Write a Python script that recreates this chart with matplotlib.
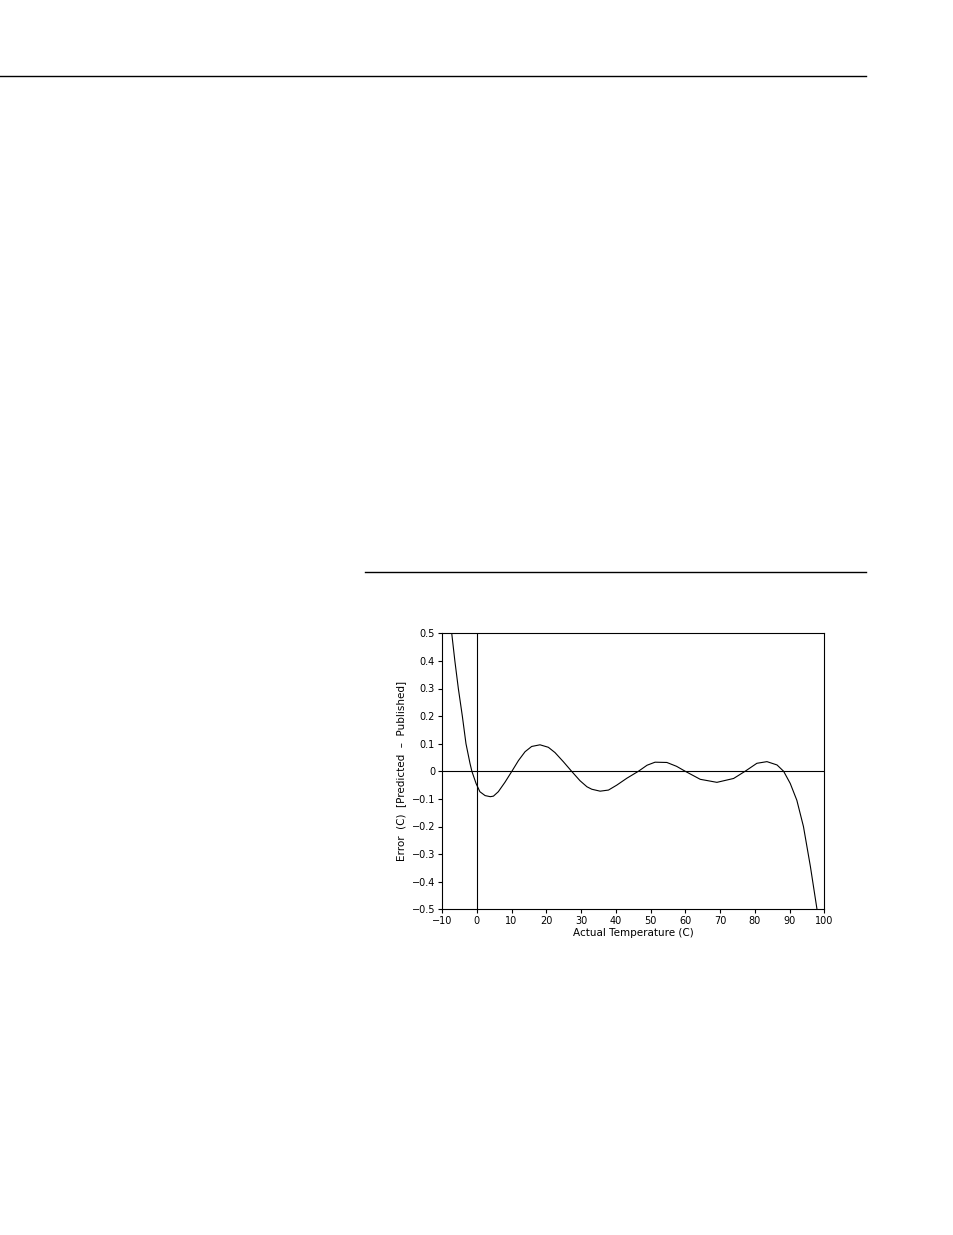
import matplotlib
matplotlib.use('Agg')
import matplotlib.pyplot as plt

# curve (actual temperature vs. error)
temp = [-7.2, -6.3, -5.3, -4.15, -3.1, -1.95, -1.4, -0.2, 0.9, 2.4, 3.9, 4.8,
        6.2, 8.1, 10.1, 12.0, 13.9, 15.8, 18.2, 20.6, 22.5, 24.9, 27.3, 29.7,
        31.7, 33.1, 35.5, 37.9, 40.3, 43.2, 46.5, 49.0, 51.3, 54.7, 57.5, 60.0,
        64.3, 69.1, 73.9, 77.2, 80.6, 83.5, 86.4, 88.3, 90.2, 92.1, 94.0, 96.0,
        97.9]
error = [0.5, 0.4, 0.3, 0.2, 0.1, 0.029, 0.0, -0.044, -0.074, -0.088, -0.092,
         -0.09, -0.074, -0.04, 0.0, 0.039, 0.071, 0.09, 0.096, 0.087, 0.068,
         0.035, 0.0, -0.034, -0.056, -0.065, -0.072, -0.068, -0.05, -0.025, 0.0,
         0.022, 0.033, 0.032, 0.018, 0.0, -0.029, -0.04, -0.026, 0.0, 0.029,
         0.035, 0.023, 0.0, -0.044, -0.105, -0.20, -0.345, -0.5]

xticks = [-10, 0, 10, 20, 30, 40, 50, 60, 70, 80, 90, 100]
xtick_labels = ['\u221210', '0', '10', '20', '30', '40', '50', '60', '70', '80', '90', '100']
yticks = [0.5, 0.4, 0.3, 0.2, 0.1, 0, -0.1, -0.2, -0.3, -0.4, -0.5]
ytick_labels = ['0.5', '0.4', '0.3', '0.2', '0.1', '0',
                '\u22120.1', '\u22120.2', '\u22120.3', '\u22120.4', '\u22120.5']

W, H = 954, 1235
fig = plt.figure(figsize=(W / 100, H / 100), dpi=100)

# page rules
fig.add_artist(plt.Line2D([0, 866 / W], [1 - 76 / H, 1 - 76 / H], color='black', lw=1.0))
fig.add_artist(plt.Line2D([365 / W, 866 / W], [1 - 572 / H, 1 - 572 / H], color='black', lw=1.0))

ax = fig.add_axes([442 / W, 1 - 909.3 / H, (824.3 - 442) / W, (909.3 - 633.3) / H])
ax.plot(temp, error, color='black', lw=0.8)
ax.axhline(0, color='black', lw=0.8)
ax.axvline(0, color='black', lw=0.8)

ax.set_xlim(-10, 100)
ax.set_ylim(-0.5, 0.5)
ax.set_xticks(xticks)
ax.set_xticklabels(xtick_labels)
ax.set_yticks(yticks)
ax.set_yticklabels(ytick_labels)
ax.tick_params(direction='out', length=3, width=0.8, labelsize=7, pad=2)
for s in ax.spines.values():
    s.set_linewidth(0.8)

ax.set_xlabel('Actual Temperature (C)', fontsize=7.5, labelpad=1)
ax.set_ylabel('Error  (C)  [Predicted  \u2013  Published]', fontsize=7.5, labelpad=4)

fig.savefig('out.png', dpi=100)
